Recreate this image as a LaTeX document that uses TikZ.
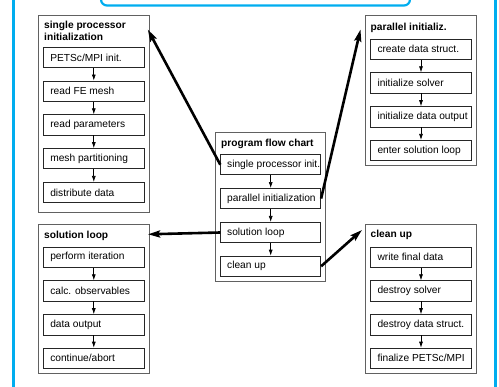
\documentclass[tikz,border=0pt]{standalone}
\usepackage{fontspec}
\setmainfont{Liberation Sans}
\usetikzlibrary{arrows.meta}

% fixed-width left-aligned label inside a step box
\newcommand\boxlabel[1]{\makebox[87pt][l]{#1}}

\tikzset{
  panel/.style={draw=black!62, line width=0.9pt, rectangle, inner sep=0pt},
  panetitle/.style={anchor=base west, inner sep=0pt, font=\fontsize{10.2}{12}\selectfont\bfseries, align=left},
  stepbox/.style={draw=black!85, line width=0.8pt, rectangle, inner sep=0pt,
    minimum width=101pt, minimum height=20.3pt, font=\fontsize{10.2}{12}\selectfont},
  flow/.style={line width=0.7pt, -{Latex[length=6pt,width=4pt]}},
  jump/.style={line width=2.6pt, -{Stealth[length=12pt,width=7pt,inset=2pt]}},
  frameline/.style={draw=cyan, line width=2.6pt}
}

\begin{document}
\begin{tikzpicture}[x=1pt,y=-1pt]
\useasboundingbox (0,0) rectangle (499,387);

% cyan surround and the banner above it
\begin{scope}
  \clip (0,0) rectangle (499,387);
  \draw[frameline] (13.3,-20) -- (13.3,400);
  \draw[frameline] (495.3,-20) -- (495.3,400);
  \draw[draw=cyan, line width=2.2pt, rounded corners=6pt] (101,-30) rectangle (410,5.5);
\end{scope}

% ---- single processor initialization
\node[panel, minimum width=111pt, minimum height=197.7pt] (sp) at (93.8,113.85) {};
\node[panetitle] (sptitle) at (44,29) {single processor};
\node[panetitle] (sptitleb) at (44,41) {initialization};
\node[stepbox] (sp1) at (93.8,57.5)  {\boxlabel{PETSc/MPI init.}};
\node[stepbox] (sp2) at (93.8,91.1)  {\boxlabel{read FE mesh}};
\node[stepbox] (sp3) at (93.8,124.9) {\boxlabel{read parameters}};
\node[stepbox] (sp4) at (93.8,158.7) {\boxlabel{mesh partitioning}};
\node[stepbox] (sp5) at (93.8,192.5) {\boxlabel{distribute data}};
\foreach \a/\b in {sp1/sp2,sp2/sp3,sp3/sp4,sp4/sp5} \draw[flow] (\a) -- (\b);

% ---- solution loop
\node[panel, minimum width=111pt, minimum height=149.3pt] (sl) at (93.8,298.65) {};
\node[panetitle] (sltitle) at (44,238.2) {solution loop};
\node[stepbox] (sl1) at (93.8,257.3)  {\boxlabel{perform iteration}};
\node[stepbox] (sl2) at (93.8,290.9)  {\boxlabel{calc. observables}};
\node[stepbox] (sl3) at (93.8,324.8)  {\boxlabel{data output}};
\node[stepbox] (sl4) at (93.8,358.3)  {\boxlabel{continue/abort}};
\foreach \a/\b in {sl1/sl2,sl2/sl3,sl3/sl4} \draw[flow] (\a) -- (\b);

% ---- parallel initialization
\node[panel, minimum width=111.4pt, minimum height=150.7pt] (pi) at (421,90.35) {};
\node[panetitle] (pititle) at (370.5,31) {parallel initializ.};
\node[stepbox] (pi1) at (421,49.3)  {\boxlabel{create data struct.}};
\node[stepbox] (pi2) at (421,82.9)  {\boxlabel{initialize solver}};
\node[stepbox] (pi3) at (421,116.8) {\boxlabel{initialize data output}};
\node[stepbox] (pi4) at (421,150.5) {\boxlabel{enter solution loop}};
\foreach \a/\b in {pi1/pi2,pi2/pi3,pi3/pi4} \draw[flow] (\a) -- (\b);

% ---- clean up
\node[panel, minimum width=111.4pt, minimum height=149.3pt] (cu) at (421,298.65) {};
\node[panetitle] (cutitle) at (370.5,238) {clean up};
\node[stepbox] (cu1) at (421,257.3)  {\boxlabel{write final data}};
\node[stepbox] (cu2) at (421,290.9)  {\boxlabel{destroy solver}};
\node[stepbox] (cu3) at (421,324.8)  {\boxlabel{destroy data struct.}};
\node[stepbox] (cu4) at (421,358.3)  {\boxlabel{finalize PETSc/MPI}};
\foreach \a/\b in {cu1/cu2,cu2/cu3,cu3/cu4} \draw[flow] (\a) -- (\b);

% ---- program flow chart (centre)
\node[panel, minimum width=110pt, minimum height=149.4pt] (pf) at (270.7,207) {};
\node[panetitle] (pftitle) at (221,146.3) {program flow chart};
\node[stepbox, minimum width=100pt] (pf1) at (270.7,164.7) {\boxlabel{single processor init.}};
\node[stepbox, minimum width=100pt] (pf2) at (270.7,198.6) {\boxlabel{parallel initialization}};
\node[stepbox, minimum width=100pt] (pf3) at (270.7,232.5) {\boxlabel{solution loop}};
\node[stepbox, minimum width=100pt] (pf4) at (270.7,266.3) {\boxlabel{clean up}};
\foreach \a/\b in {pf1/pf2,pf2/pf3,pf3/pf4} \draw[flow] (\a) -- (\b);

% ---- jumps from the chart to the detail panels
\coordinate (sptip) at (147.8,29.5);
\coordinate (pitip) at (360.5,29.5);
\coordinate (sltip) at (148,234.3);
\coordinate (cutip) at (362,230);
\draw[jump] (pf1.west) -- (sptip);
\draw[jump] (pf2.east) -- (pitip);
\draw[jump] (pf3.west) -- (sltip);
\draw[jump] (pf4.east) -- (cutip);
\end{tikzpicture}
\end{document}
